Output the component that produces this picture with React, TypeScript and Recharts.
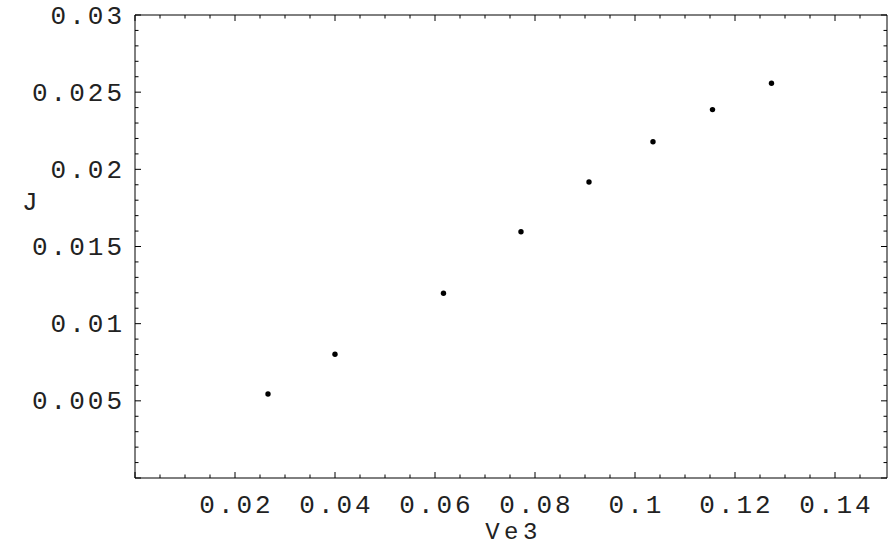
import { Scatter, ScatterChart, XAxis, YAxis } from "recharts";

// Ve3 vs J
const ve3 = [0.0266, 0.04, 0.0617, 0.0772, 0.0908, 0.1036, 0.1155, 0.1273];
const jValues = [0.00544, 0.00802, 0.01197, 0.01596, 0.01918, 0.02179, 0.02387, 0.02558];

const xMajorTicks = [0.02, 0.04, 0.06, 0.08, 0.1, 0.12, 0.14];
const xTickLabels = ["0.02", "0.04", "0.06", "0.08", "0.1", "0.12", "0.14"];
const yMajorTicks = [0.005, 0.01, 0.015, 0.02, 0.025, 0.03];
const yTickLabels = ["0.005", "0.01", "0.015", "0.02", "0.025", "0.03"];

const data = ve3.map((x, i) => ({ x, y: jValues[i] }));

// minor tick positions (0.005 steps on x, 0.001 steps on y)
const xTicks: number[] = [];
for (let k = 0; k <= 29; k++) xTicks.push(Math.round(k * 5) / 1000);
const yTicks: number[] = [];
for (let k = 0; k <= 30; k++) yTicks.push(k / 1000);

const font = "'Liberation Mono', 'Courier New', monospace";
const fontSize = 26;
const spacing = 3;
const textColor = "#222";
const MAJOR = 6;
const MINOR = 3.5;

const findIdx = (list: number[], v: number) =>
  list.findIndex((m) => Math.abs(m - v) < 1e-9);
const isMajorX = (v: number) => Math.abs(v / 0.02 - Math.round(v / 0.02)) < 1e-6;
const isMajorY = (v: number) => Math.abs(v / 0.005 - Math.round(v / 0.005)) < 1e-6;

const BottomTick = (p: any) => {
  const v = p.payload.value;
  const len = isMajorX(v) ? MAJOR : MINOR;
  const i = findIdx(xMajorTicks, v);
  return (
    <g>
      <line x1={p.x} x2={p.x} y1={p.y} y2={p.y - len} stroke="#000" strokeWidth={1} />
      {i >= 0 && (
        <text
          x={p.x + spacing / 2}
          y={p.y + 35}
          textAnchor="middle"
          fontFamily={font}
          fontSize={fontSize}
          letterSpacing={spacing}
          fill={textColor}
        >
          {xTickLabels[i]}
        </text>
      )}
    </g>
  );
};

const TopTick = (p: any) => {
  const v = p.payload.value;
  const len = isMajorX(v) ? MAJOR : MINOR;
  return <line x1={p.x} x2={p.x} y1={p.y} y2={p.y + len} stroke="#000" strokeWidth={1} />;
};

const LeftTick = (p: any) => {
  const v = p.payload.value;
  const len = isMajorY(v) ? MAJOR : MINOR;
  const i = findIdx(yMajorTicks, v);
  return (
    <g>
      <line x1={p.x} x2={p.x + len} y1={p.y} y2={p.y} stroke="#000" strokeWidth={1} />
      {i >= 0 && (
        <text
          x={p.x - 10}
          y={p.y + 8.5}
          textAnchor="end"
          fontFamily={font}
          fontSize={fontSize}
          letterSpacing={spacing}
          fill={textColor}
        >
          {yTickLabels[i]}
        </text>
      )}
    </g>
  );
};

const RightTick = (p: any) => {
  const v = p.payload.value;
  const len = isMajorY(v) ? MAJOR : MINOR;
  return <line x1={p.x} x2={p.x - len} y1={p.y} y2={p.y} stroke="#000" strokeWidth={1} />;
};

const Dot = (p: any) => <circle cx={p.cx} cy={p.cy} r={2.7} fill="#000" />;

export default function App() {
  return (
    <div style={{ position: "absolute", left: 0, top: 0, width: 889, height: 550, background: "#fff" }}>
      <ScatterChart width={889} height={550} margin={{ top: 0, right: 0, bottom: 0, left: 0 }}>
        <XAxis
          xAxisId="bottom"
          orientation="bottom"
          type="number"
          dataKey="x"
          domain={[0, 0.1504]}
          allowDataOverflow
          ticks={xTicks}
          interval={0}
          height={72}
          tickSize={0}
          tickMargin={0}
          tickLine={false}
          tick={BottomTick}
          axisLine={{ stroke: "#000", strokeWidth: 1 }}
        />
        <XAxis
          xAxisId="top"
          orientation="top"
          type="number"
          dataKey="x"
          domain={[0, 0.1504]}
          allowDataOverflow
          ticks={xTicks}
          interval={0}
          height={15}
          tickSize={0}
          tickMargin={0}
          tickLine={false}
          tick={TopTick}
          axisLine={{ stroke: "#000", strokeWidth: 1 }}
        />
        <YAxis
          yAxisId="left"
          orientation="left"
          type="number"
          dataKey="y"
          domain={[0, 0.03]}
          allowDataOverflow
          ticks={yTicks}
          interval={0}
          width={135}
          tickSize={0}
          tickMargin={0}
          tickLine={false}
          tick={LeftTick}
          axisLine={{ stroke: "#000", strokeWidth: 1 }}
        />
        <YAxis
          yAxisId="right"
          orientation="right"
          type="number"
          dataKey="y"
          domain={[0, 0.03]}
          allowDataOverflow
          ticks={yTicks}
          interval={0}
          width={2}
          tickSize={0}
          tickMargin={0}
          tickLine={false}
          tick={RightTick}
          axisLine={{ stroke: "#000", strokeWidth: 1 }}
        />
        <Scatter
          data={data}
          xAxisId="bottom"
          yAxisId="left"
          shape={Dot}
          isAnimationActive={false}
        />
      </ScatterChart>
      <svg
        width={889}
        height={550}
        style={{ position: "absolute", left: 0, top: 0, pointerEvents: "none" }}
      >
        <text x={22} y={210} fontFamily={font} fontSize={fontSize} fill={textColor}>
          J
        </text>
        <text
          x={512 + spacing / 2}
          y={539}
          textAnchor="middle"
          fontFamily={font}
          fontSize={24}
          letterSpacing={spacing + 1.5}
          fill={textColor}
        >
          Ve3
        </text>
      </svg>
    </div>
  );
}
